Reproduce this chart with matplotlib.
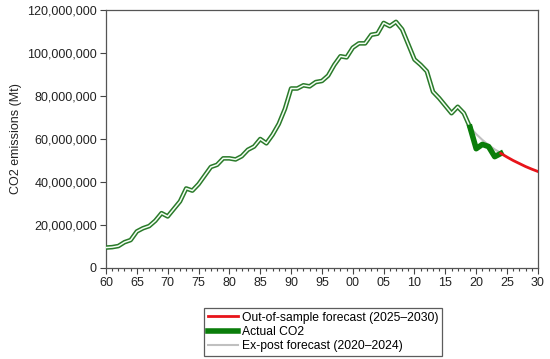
import matplotlib
matplotlib.use("Agg")
import matplotlib.pyplot as plt
from matplotlib.ticker import FuncFormatter, MultipleLocator
import numpy as np

plt.rcParams['font.family'] = ['Liberation Sans', 'DejaVu Sans']

hist_years = list(range(1960, 2020))
hist_vals = [9.5, 9.7, 10.2, 12.0, 13.0, 17.0, 18.5, 19.5, 22.0, 25.5,
             24.0, 27.5, 31.0, 37.0, 36.0, 39.0, 43.0, 47.0, 48.0, 51.0,
             51.0, 50.5, 52.0, 55.0, 56.5, 60.0, 58.0, 62.0, 67.0, 74.0,
             83.5, 83.5, 85.0, 84.5, 86.5, 87.0, 89.5, 94.5, 98.5, 98.0,
             102.5, 104.5, 104.5, 108.5, 109.0, 114.0, 112.5, 114.5, 111.0, 104.0,
             97.0, 94.5, 91.5, 82.0, 79.0, 75.5, 72.0, 75.0, 72.0, 65.5]
actual_years = [2019, 2020, 2021, 2022, 2023, 2024]
actual_vals = [65.5, 55.5, 57.5, 56.5, 51.8, 53.3]
expost_years = [2019, 2020, 2021, 2022, 2023, 2024]
expost_vals = [65.5, 62.3, 59.6, 57.2, 55.2, 53.5]
oos_years = [2024, 2025, 2026, 2027, 2028, 2029, 2030]
oos_vals = [53.3, 51.6, 50.0, 48.6, 47.2, 46.0, 44.9]

scale = 1e6
fig = plt.figure(figsize=(5.5, 3.59), dpi=100)
ax = fig.add_axes([0.1927, 0.2535, 0.978 - 0.1927, 0.972 - 0.2535])

hy = np.array(hist_vals) * scale
ax.plot(hist_years, hy, color='#2a7a2a', lw=3.3, zorder=3)
ax.plot(hist_years, hy, color='#f4fff4', lw=1.1, zorder=4)

ax.plot(expost_years, np.array(expost_vals) * scale, color='#c0c0c0', lw=1.5, zorder=2,
        label='Ex-post forecast (2020\u20132024)')
ax.plot(actual_years, np.array(actual_vals) * scale, color='#0a7d0a', lw=4, zorder=5,
        label='Actual CO2')
ax.plot(oos_years, np.array(oos_vals) * scale, color='#e8141a', lw=2, zorder=5,
        label='Out-of-sample forecast (2025\u20132030)')

ax.set_xlim(1960, 2030)
ax.set_ylim(0, 120e6)
ax.xaxis.set_major_locator(MultipleLocator(5))
ax.xaxis.set_minor_locator(MultipleLocator(1))
ax.yaxis.set_major_locator(MultipleLocator(20e6))
ax.xaxis.set_major_formatter(FuncFormatter(lambda v, p: f"{int(round(v)) % 100:02d}"))
ax.yaxis.set_major_formatter(FuncFormatter(lambda v, p: f"{int(round(v)):,}"))
ax.tick_params(axis='both', direction='out', labelsize=9, color='#444444', length=4, width=0.8,
               labelcolor='#222222', pad=2.5)
ax.tick_params(axis='x', which='minor', direction='out', length=2.5, width=0.8, color='#444444')
ax.tick_params(top=False, right=False)
for s in ax.spines.values():
    s.set_color('#555555')
    s.set_linewidth(0.9)
ax.set_ylabel('CO2 emissions (Mt)', fontsize=9, color='#222222')

h, l = ax.get_legend_handles_labels()
order = [2, 1, 0]
leg = fig.legend([h[i] for i in order], [l[i] for i in order],
                 loc='upper left', bbox_to_anchor=(204 / 550, 1 - 308 / 359),
                 prop={'size': 8.7}, frameon=True, fancybox=False, handlelength=2.5,
                 handletextpad=0.35, labelspacing=0.2, borderpad=0.3, borderaxespad=0)
leg.get_frame().set_edgecolor('#333333')
leg.get_frame().set_linewidth(0.9)

fig.savefig('out.png', dpi=100)
